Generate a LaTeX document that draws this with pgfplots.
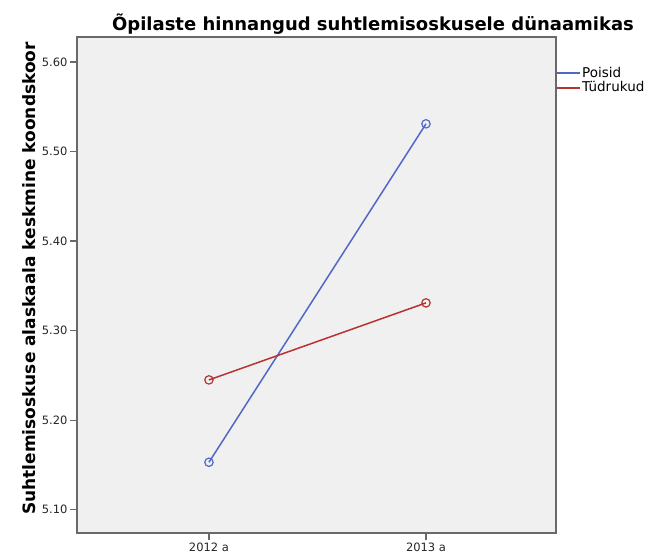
\documentclass[border=0pt]{standalone}
\usepackage{pgfplots}
\pgfplotsset{compat=1.18}
\usepackage{fontspec}
\setmainfont{DejaVu Sans}
\definecolor{bgc}{RGB}{240,240,240}
\definecolor{blu}{RGB}{80,105,200}
\definecolor{rd}{RGB}{185,50,50}
\definecolor{frm}{RGB}{105,105,105}
\begin{document}
\begin{tikzpicture}[x=1pt,y=1pt]
\useasboundingbox (0,0) rectangle (649,555);
\begin{axis}[
  at={(77pt,22pt)}, anchor=south west,
  scale only axis, width=479pt, height=496pt,
  xmin=-0.608, xmax=1.599, ymin=5.074, ymax=5.628,
  xtick={0,1}, xticklabels={2012 a,2013 a},
  ytick={5.1,5.2,5.3,5.4,5.5,5.6},
  tick label style={font=\fontsize{11.5}{13}\selectfont, text=black!85},
  xticklabel style={yshift=1pt},
  yticklabel style={xshift=1pt, /pgf/number format/.cd, fixed, fixed zerofill, precision=2, assume math mode=true},
  tick align=outside, tick pos=left,
  major tick length=7pt,
  tick style={frm, line width=1.3pt},
  axis background/.style={fill=bgc},
  axis line style={frm, line width=1.5pt},
  legend style={at={(1.0,0.945)}, anchor=north west, draw=none, fill=none,
    font=\fontsize{13.5}{15}\selectfont, row sep=-1.5pt, inner sep=1pt},
  legend cell align=left,
  legend image code/.code={\path[#1, mark=none, draw=none] (0pt,-0.9pt) rectangle (23pt,0.9pt);},
]
\addplot[blu, line width=1.5pt, mark=o, mark size=4.2pt, mark options={line width=1.2pt}, fill=blu] coordinates {(0,5.153) (1,5.531)};
\addlegendentry{Poisid}
\addplot[rd, line width=1.5pt, mark=o, mark size=4.2pt, mark options={line width=1.2pt}, fill=rd] coordinates {(0,5.245) (1,5.331)};
\addlegendentry{Tüdrukud}
\end{axis}
\node[font=\fontsize{18}{20}\selectfont\bfseries] at (373,531) {Õpilaste hinnangud suhtlemisoskusele dünaamikas};
\node[rotate=90, font=\fontsize{17}{19}\selectfont\bfseries] at (29,276.5) {Suhtlemisoskuse alaskaala keskmine koondskoor};
\end{tikzpicture}
\end{document}
